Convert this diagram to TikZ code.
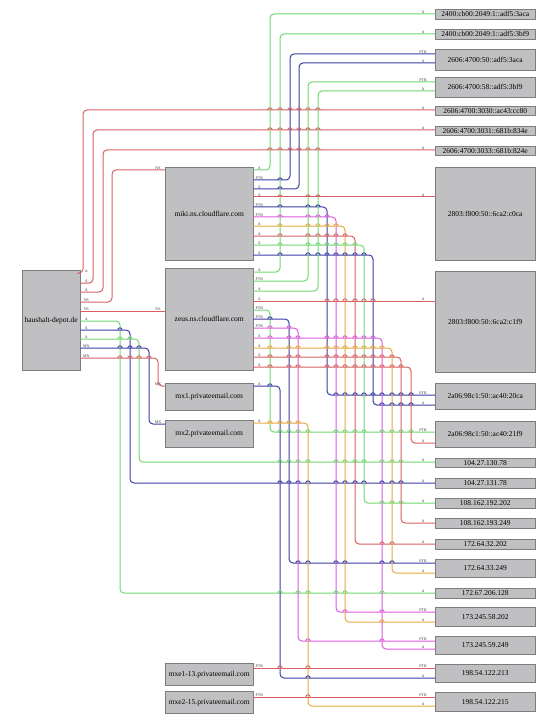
\documentclass[tikz,border=0pt]{standalone}
\usepackage{fontspec}
\setmainfont{Liberation Serif}
\usetikzlibrary{shadows}
\definecolor{hostgray}{RGB}{192,192,194}
\definecolor{hostedge}{RGB}{125,125,125}
\definecolor{rrgreen}{RGB}{110,215,110}
\definecolor{rrblue}{RGB}{60,60,165}
\definecolor{rrred}{RGB}{215,95,95}
\definecolor{rrmagenta}{RGB}{220,90,220}
\definecolor{rrorange}{RGB}{232,168,64}
\newcommand{\hops}[3]{\foreach \hx in {#3}
  \draw[#1, line width=0.9pt] (\hx-2.2,#2) arc[start angle=180, end angle=360, radius=2.2];}

\begin{document}
\begin{tikzpicture}[x=1pt, y=-1pt,
    host/.style={draw=hostedge, fill=hostgray, anchor=north west, inner sep=0pt,
      font=\fontsize{7.5}{8}\selectfont,
      drop shadow={shadow xshift=0.9pt, shadow yshift=-0.9pt, fill=black!45}},
    mid/.style={host, minimum width=88pt},
    ipbox/.style={host, minimum width=100pt},
    wire/.style={line width=1pt, rounded corners=4pt},
    rr/.style={anchor=south, inner sep=0.2pt, font=\fontsize{4}{4}\selectfont, text=black!75}]
  \useasboundingbox (0,0) rectangle (556,719);

  % Domain
  \node[host, minimum width=58pt, minimum height=100pt] (hd) at (22,270) {haushalt-depot.de};

  % Name servers and mail hosts
  \node[mid, minimum height=93pt] (miki) at (165,167) {miki.ns.cloudflare.com};
  \node[mid, minimum height=102pt] (zeus) at (165,268) {zeus.ns.cloudflare.com};
  \node[mid, minimum height=27pt] (mxa) at (165,383) {mx1.privateemail.com};
  \node[mid, minimum height=27pt] (mxb) at (165,420) {mx2.privateemail.com};
  \node[mid, minimum height=22pt] (mxea) at (165,663) {mxe1-13.privateemail.com};
  \node[mid, minimum height=22pt] (mxeb) at (165,691) {mxe2-15.privateemail.com};

  % Addresses
  \node[ipbox, minimum height=10pt] (n2400a) at (435,9) {2400:cb00:2049:1::adf5:3aca};
  \node[ipbox, minimum height=10pt] (n2400b) at (435,29) {2400:cb00:2049:1::adf5:3bf9};
  \node[ipbox, minimum height=21pt] (n4700a) at (435,49) {2606:4700:50::adf5:3aca};
  \node[ipbox, minimum height=20pt] (n4700b) at (435,77) {2606:4700:58::adf5:3bf9};
  \node[ipbox, minimum height=9pt] (n3030) at (435,106) {2606:4700:3030::ac43:cc80};
  \node[ipbox, minimum height=9pt] (n3031) at (435,126) {2606:4700:3031::681b:834e};
  \node[ipbox, minimum height=9pt] (n3033) at (435,146) {2606:4700:3033::681b:824e};
  \node[ipbox, minimum height=93pt] (n2803a) at (435,167) {2803:f800:50::6ca2:c0ca};
  \node[ipbox, minimum height=101pt] (n2803b) at (435,271) {2803:f800:50::6ca2:c1f9};
  \node[ipbox, minimum height=26pt] (n2a06a) at (435,383) {2a06:98c1:50::ac40:20ca};
  \node[ipbox, minimum height=26pt] (n2a06b) at (435,421) {2a06:98c1:50::ac40:21f9};
  \node[ipbox, minimum height=9pt] (n104a) at (435,458) {104.27.130.78};
  \node[ipbox, minimum height=10pt] (n104b) at (435,478) {104.27.131.78};
  \node[ipbox, minimum height=10pt] (n108a) at (435,498) {108.162.192.202};
  \node[ipbox, minimum height=10pt] (n108b) at (435,518) {108.162.193.249};
  \node[ipbox, minimum height=10pt] (n172a) at (435,539) {172.64.32.202};
  \node[ipbox, minimum height=18pt] (n172b) at (435,559) {172.64.33.249};
  \node[ipbox, minimum height=10pt] (n172c) at (435,588) {172.67.206.128};
  \node[ipbox, minimum height=19pt] (n173a) at (435,607) {173.245.58.202};
  \node[ipbox, minimum height=18pt] (n173b) at (435,636) {173.245.59.249};
  \node[ipbox, minimum height=18pt] (n198a) at (435,664) {198.54.122.213};
  \node[ipbox, minimum height=19pt] (n198b) at (435,692) {198.54.122.215};

  % Routed records
  \foreach \c/\s/\sy/\vx/\ty/\t/\l/\ho in {
      rrred/hd/273/83/110/n3030/A/12, rrred/hd/283/93/130/n3031/A/12,
      rrred/hd/292/103/150/n3033/A/12, rrred/hd/302/112/170/miki/NS/7,
      rrgreen/hd/321/120/593/n172c/A/12, rrblue/hd/330/130/483/n104b/A/12,
      rrgreen/hd/339/139/462/n104a/A/12, rrblue/hd/348/149/424/mxb/MX/7,
      rrred/hd/358/158/386/mxa/MX/7,
      rrgreen/miki/170/270/14/n2400a/A/12, rrblue/miki/180/290/54/n4700a/PTR/12,
      rrblue/miki/189/299/63/n4700a/A/12, rrblue/miki/207/327/395/n2a06a/PTR/12,
      rrmagenta/miki/217/336/612/n173a/PTR/12, rrorange/miki/226/345/622/n173a/A/12,
      rrred/miki/236/355/544/n172a/A/12, rrgreen/miki/245/364/503/n108a/A/12,
      rrblue/miki/255/373/405/n2a06a/A/12,
      rrgreen/zeus/272/280/34/n2400b/A/12, rrgreen/zeus/281/308/82/n4700b/PTR/12,
      rrgreen/zeus/291/318/91/n4700b/A/12, rrgreen/zeus/310/270/432/n2a06b/PTR/12,
      rrblue/zeus/319/289/563/n172b/PTR/12, rrmagenta/zeus/328/298/641/n173b/PTR/12,
      rrmagenta/zeus/338/382/649/n173b/A/12, rrorange/zeus/348/392/573/n172b/A/12,
      rrred/zeus/357/401/523/n108b/A/12, rrred/zeus/367/411/443/n2a06b/A/12,
      rrblue/mxa/386/280/678/n198a/A/12, rrorange/mxb/423/308/706/n198b/A/12}{
    \draw[wire, draw=\c] (\s.east |- 0,\sy) -- (\vx,\sy) -- (\vx,\ty) -- (\t.west |- 0,\ty);
    \path (\s.east |- 0,\sy) ++(6,-0.5) node[rr] {\l};
    \path (\t.west |- 0,\ty) ++(-\ho,-0.5) node[rr] {\l};
  }

  % Straight records
  \draw[wire, rrred] (hd.east |- 0,311) -- (zeus.west |- 0,311);
  \draw[wire, rrred] (miki.east |- 0,197) -- (n2803a.west |- 0,197);
  \draw[wire, rrred] (zeus.east |- 0,301) -- (n2803b.west |- 0,301);
  \draw[wire, rrred] (mxea.east |- 0,668) -- (n198a.west |- 0,668);
  \draw[wire, rrred] (mxeb.east |- 0,697) -- (n198b.west |- 0,697);
  \path (hd.east |- 0,311) ++(6,-0.5) node[rr] {NS};
  \path (zeus.west |- 0,311) ++(-7,-0.5) node[rr] {NS};
  \path (miki.east |- 0,197) ++(6,-0.5) node[rr] {A};
  \path (n2803a.west |- 0,197) ++(-12,-0.5) node[rr] {A};
  \path (zeus.east |- 0,301) ++(6,-0.5) node[rr] {A};
  \path (n2803b.west |- 0,301) ++(-12,-0.5) node[rr] {A};
  \path (mxea.east |- 0,668) ++(6,-0.5) node[rr] {PTR};
  \path (n198a.west |- 0,668) ++(-12,-0.5) node[rr] {PTR};
  \path (mxeb.east |- 0,697) ++(6,-0.5) node[rr] {PTR};
  \path (n198b.west |- 0,697) ++(-12,-0.5) node[rr] {PTR};

  % Line jumps
  \hops{rrred}{110}{270,280,290,299,308,318}
  \hops{rrred}{130}{270,280,290,299,308,318}
  \hops{rrred}{150}{270,280,290,299,308,318}
  \hops{rrblue}{330}{120}
  \hops{rrgreen}{339}{120,130}
  \hops{rrblue}{348}{120,130,139}
  \hops{rrred}{358}{120,130,139,149}
  \hops{rrgreen}{462}{280,289,298,308,336,345,355,364,382,392,401}
  \hops{rrblue}{483}{280,289,298,308,336,345,355,364,382,392,401}
  \hops{rrgreen}{593}{280,298,308,336,345,382}
  \hops{rrblue}{180}{280}
  \hops{rrblue}{189}{280}
  \hops{rrred}{197}{280,308,318}
  \hops{rrblue}{207}{280,308,318}
  \hops{rrmagenta}{217}{280,308,318,327}
  \hops{rrorange}{226}{280,308,318,327,336}
  \hops{rrred}{236}{280,308,318,327,336,345}
  \hops{rrgreen}{245}{280,308,318,327,336,345,355}
  \hops{rrblue}{255}{280,308,318,327,336,345,355,364}
  \hops{rrred}{301}{327,336,345,355,364,373}
  \hops{rrblue}{319}{270}
  \hops{rrmagenta}{328}{270,289}
  \hops{rrmagenta}{338}{270,289,298,327,336,345,355,364,373}
  \hops{rrorange}{348}{270,289,298,327,336,345,355,364,373,382}
  \hops{rrred}{357}{270,289,298,327,336,345,355,364,373,382,392}
  \hops{rrred}{367}{270,289,298,327,336,345,355,364,373,382,392,401}
  \hops{rrblue}{386}{270}
  \hops{rrorange}{423}{270,280,289,298}
  \hops{rrgreen}{432}{280,289,298,308,336,345,355,364,382,392,401,411}
  \hops{rrblue}{395}{336,345,355,364,373,382,392,401,411}
  \hops{rrblue}{405}{382,392,401,411}
  \hops{rrgreen}{503}{382,392,401}
  \hops{rrred}{544}{382,392}
  \hops{rrblue}{563}{298,308,336,345,382,392}
  \hops{rrmagenta}{612}{345,382}
  \hops{rrorange}{622}{382}
  \hops{rrmagenta}{641}{308,382}
  \hops{rrred}{668}{280,308}
  \hops{rrblue}{678}{308}
  \hops{rrred}{697}{308}
\end{tikzpicture}
\end{document}
